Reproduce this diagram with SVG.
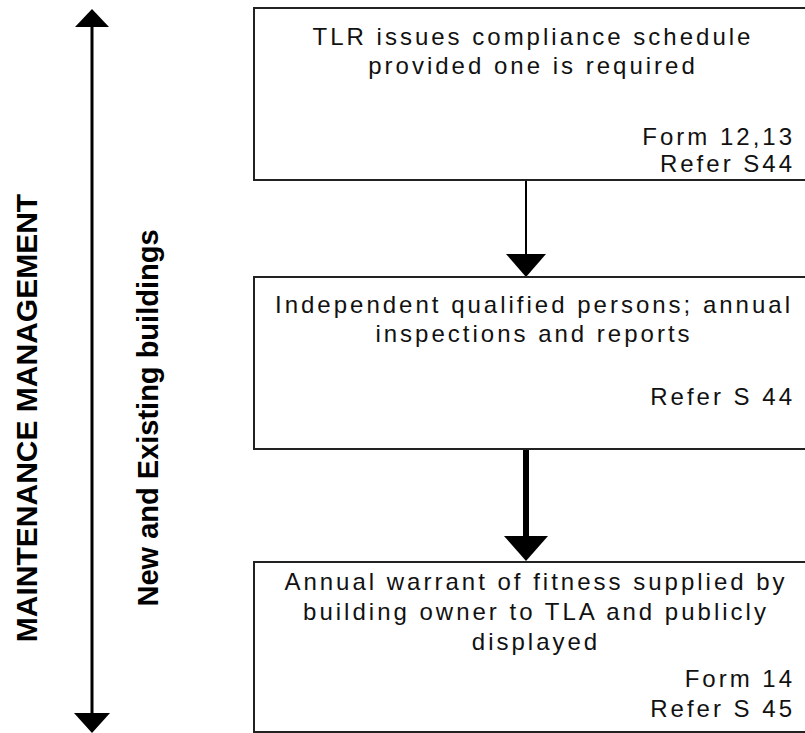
<svg xmlns="http://www.w3.org/2000/svg" width="805" height="733" viewBox="0 0 805 733">
  <style>
    .box { fill: #ffffff; stroke: #222222; stroke-width: 2; }
    .t { font-family: "Liberation Sans", Arial, sans-serif; font-size: 24px; fill: #111111; letter-spacing: 3px; }
    .c { text-anchor: middle; }
    .r { text-anchor: end; }
    .side { font-family: "Liberation Sans", Arial, sans-serif; font-weight: bold; fill: #000000; text-anchor: middle; }
    .line { stroke: #000000; fill: none; }
    .head { fill: #000000; stroke: none; }
  </style>
  <rect width="805" height="733" fill="#ffffff"/>

  <g id="labels">
    <text class="side" font-size="30" transform="translate(37,418) rotate(-90)">MAINTENANCE MANAGEMENT</text>
    <text class="side" font-size="29" transform="translate(158,418) rotate(-90)">New and Existing buildings</text>
  </g>

  <g id="connectors">
    <line class="line" x1="92" y1="26" x2="92" y2="714" stroke-width="3"/>
    <polygon class="head" points="75,27 109,27 92,9"/>
    <polygon class="head" points="74,713 110,713 92,733"/>
    <line class="line" x1="526" y1="180" x2="526" y2="256" stroke-width="2"/>
    <polygon class="head" points="506,254 546,254 526,277"/>
    <line class="line" x1="526" y1="449" x2="526" y2="538" stroke-width="6"/>
    <polygon class="head" points="504,536 548,536 526,561"/>
  </g>

  <g id="node-compliance-schedule">
    <rect class="box" x="254" y="8" width="560" height="172"/>
    <text class="t c" x="533" y="45">TLR issues compliance schedule</text>
    <text class="t c" x="533" y="74">provided one is required</text>
    <text class="t r" x="795" y="145">Form 12,13</text>
    <text class="t r" x="795" y="172">Refer S44</text>
  </g>

  <g id="node-inspections">
    <rect class="box" x="254" y="277" width="560" height="172"/>
    <text class="t c" x="534" y="313">Independent qualified persons; annual</text>
    <text class="t c" x="534" y="342">inspections and reports</text>
    <text class="t r" x="795" y="405">Refer S 44</text>
  </g>

  <g id="node-warrant-of-fitness">
    <rect class="box" x="254" y="562" width="560" height="170"/>
    <text class="t c" x="536" y="590">Annual warrant of fitness supplied by</text>
    <text class="t c" x="536" y="620">building owner to TLA and publicly</text>
    <text class="t c" x="536" y="650">displayed</text>
    <text class="t r" x="795" y="687">Form 14</text>
    <text class="t r" x="795" y="717">Refer S 45</text>
  </g>
</svg>
